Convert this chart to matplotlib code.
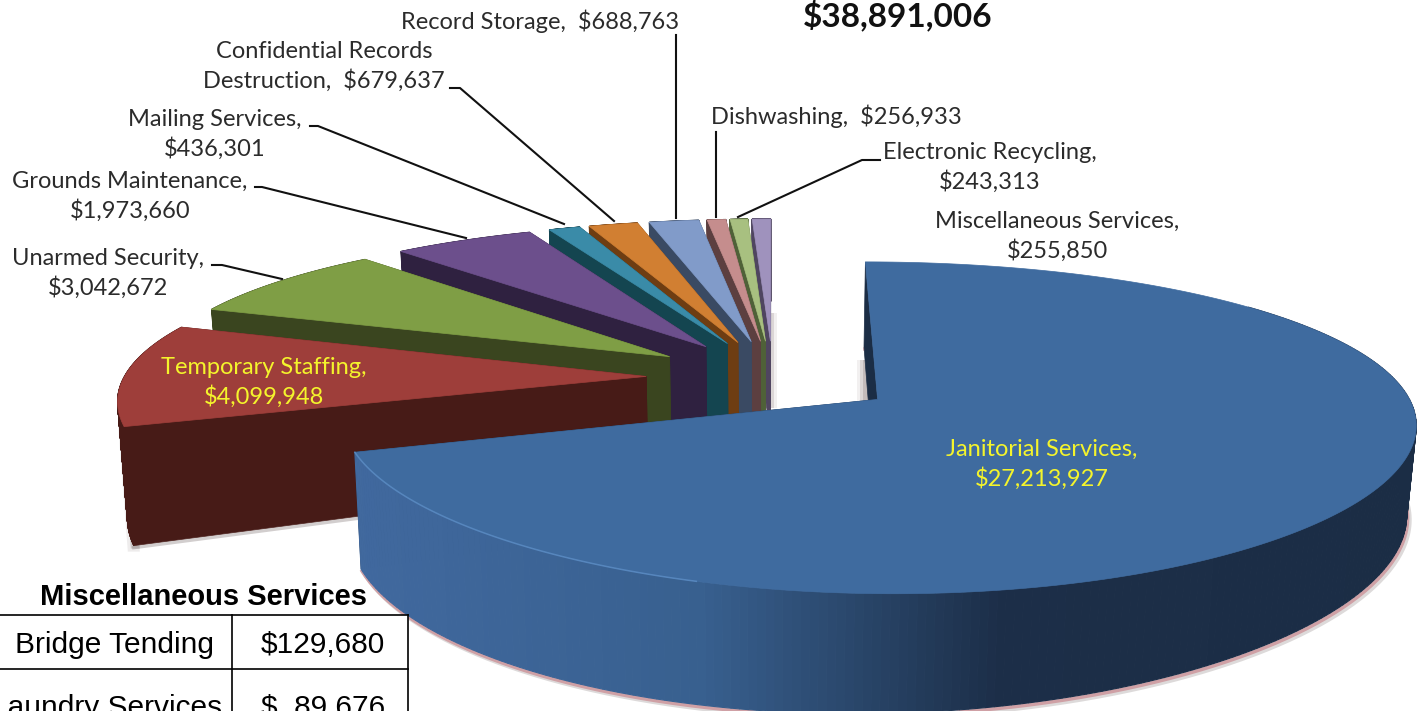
import numpy as np
import matplotlib
matplotlib.use('Agg')
import matplotlib.pyplot as plt
from matplotlib.colors import to_rgb

# chart data
services = ['Janitorial Services', 'Temporary Staffing', 'Unarmed Security',
            'Grounds Maintenance', 'Mailing Services', 'Confidential Records Destruction',
            'Record Storage', 'Dishwashing', 'Electronic Recycling', 'Miscellaneous Services']
amounts = [27213927, 4099948, 3042672, 1973660, 436301, 679637, 688763, 256933, 243313, 255850]
total_label = '$38,891,006'
misc_services = ['Bridge Tending', 'Laundry Services']
misc_amounts = ['$129,680', '$  89,676']

top_colors = ['#3f6b9f', '#9e3e3a', '#7f9e45', '#6c4f8c', '#3a8ba8',
              '#d17f32', '#819bc9', '#c58d8d', '#a8c080', '#9f92bd']
wall_colors = ['#1b2d45', '#471b17', '#3a451f', '#2f2140', '#144550',
               '#6e3d12', '#3a4a63', '#5c3f40', '#4f6138', '#4f4560']

# the fake 3d projection, in pixels
cx, cy = 773, 377
R = 522
tilt = 0.294
persp_x = 0.13
persp_y = 0.167
explode = 0.243
height = 105


def project(u, v):
    return cx + R * u / (1 + persp_x * v), cy - R * tilt * v / (1 + persp_y * v)


def drop(x, y, v):
    # where a point of the top face lands on the bottom face
    s = 1 / (1 + persp_y * v)
    h = height * s * (1 - 0.0002 * (x - 500))
    return cx + (x - cx) * 0.985, y + h


def wedge(a0, a1, n=300):
    mid = (a0 + a1) / 2
    ox, oy = explode * np.sin(mid), explode * np.cos(mid)
    ang = np.linspace(a0, a1, n)
    u = ox + np.sin(ang)
    v = oy + np.cos(ang)
    return (ox, oy), u, v


fig = plt.figure(figsize=(14.22, 7.11), dpi=100)
ax = fig.add_axes([0, 0, 1, 1])
ax.set_xlim(0, 1422)
ax.set_ylim(711, 0)
ax.axis('off')

fracs = np.array(amounts) / sum(amounts)
edges = np.concatenate([[0], np.cumsum(fracs)]) * 2 * np.pi

# soft shadows behind the back slices
for off, al in [(3, 0.45), (6, 0.3), (9, 0.15)]:
    ax.fill([765, 768 + off, 768 + off, 765], [313, 313, 408, 408], color='#a89c9c', alpha=al, lw=0, zorder=1)
    ax.fill([866 - off, 868, 868, 866 - off], [360, 360, 402, 402], color='#a89c9c', alpha=al, lw=0, zorder=1)

# back slices first, the big one last
z = 2
for i in range(len(amounts) - 1, -1, -1):
    (ox, oy), u, v = wedge(edges[i], edges[i + 1])
    xs, ys = project(u, v)
    ax_, ay_ = project(ox, oy)
    bx, by = drop(xs, ys, v)
    abx, aby = drop(ax_, ay_, oy)

    if i == 1:
        for off, al in [(3, 0.35), (6, 0.15)]:
            ax.fill([xs[0] - off, xs[0] + 6, bx[0] + 6, bx[0] - off],
                    [ys[0], ys[0], by[0] + off, by[0] + off],
                    color='#8f8585', alpha=al, lw=0, zorder=z)
        ax.plot([bx[0], abx], [by[0] + 2, aby + 2], color='#8f8585', lw=2.5, alpha=0.4, zorder=z)
    if i == 0:
        # pink rim and shadow under the big slice
        ax.plot(bx + 3, by + 4, color='#8f8585', lw=3, alpha=0.3, zorder=z)
        ax.plot(bx + 1, by + 2, color='#cfa0a5', lw=2.5, zorder=z)

    # radial walls
    ax.fill([ax_, xs[-1], bx[-1], abx], [ay_, ys[-1], by[-1], aby], color=wall_colors[i], lw=0.5, zorder=z)
    # outer wall, shaded strip by strip
    if i == 0:
        stops_x = [340, 700, 1000, 1422]
        stops_c = [to_rgb('#41699f'), to_rgb('#38608f'), to_rgb('#1c2e48'), to_rgb('#1b2d45')]
    else:
        stops_x = [0, 1422]
        stops_c = [to_rgb(wall_colors[i]), to_rgb(wall_colors[i])]
    for j in range(len(xs) - 1):
        if v[j] > 0.5 and i == 0:
            continue
        mx = (xs[j] + xs[j + 1]) / 2
        col = [np.interp(mx, stops_x, [c[k] for c in stops_c]) for k in range(3)]
        ax.fill([xs[j], xs[j + 1], bx[j + 1], bx[j]], [ys[j], ys[j + 1], by[j + 1], by[j]],
                color=col, lw=0.8, zorder=z)
    ax.fill([ax_, xs[0], bx[0], abx], [ay_, ys[0], by[0], aby], color=wall_colors[i], lw=0.5, zorder=z)
    # top face
    ax.fill(np.r_[ax_, xs], np.r_[ay_, ys], color=top_colors[i], lw=0.5, zorder=z + 0.5)
    if i == 0:
        # light edge along the front left of the top face
        keep = (xs < 700) & (v < 0)
        ax.plot(xs[keep], ys[keep], color='#5d8ec6', lw=1.1, alpha=0.8, zorder=z + 0.6)
    z += 1

# leader lines
leaders = [([676, 676], [35, 218]),
           ([450, 460, 614], [88, 88, 221]),
           ([310, 318, 564], [126, 126, 224]),
           ([255, 262, 466], [187, 187, 238]),
           ([212, 222, 282], [265, 265, 279]),
           ([716, 716], [132, 217]),
           ([880, 862, 738], [160, 160, 217])]
for lx, ly in leaders:
    ax.plot(lx, ly, color='#111111', lw=1.5, zorder=30)


def money(v):
    return '$' + format(v, ',')


lab_font = 'Lato'
lab_col = '#2b2b2b'
lab_size = 17
labels = [(540, 21, 'Record Storage,  ' + money(amounts[6])),
          (324, 66, 'Confidential Records\nDestruction,  ' + money(amounts[5])),
          (215, 134, 'Mailing Services,\n' + money(amounts[4])),
          (130, 196, 'Grounds Maintenance,\n' + money(amounts[3])),
          (108, 273, 'Unarmed Security,\n' + money(amounts[2])),
          (836, 116, 'Dishwashing,  ' + money(amounts[7])),
          (990, 167, 'Electronic Recycling,\n' + money(amounts[8])),
          (1057, 236, 'Miscellaneous Services,\n' + money(amounts[9]))]
for lx, ly, s in labels:
    ax.text(lx, ly, s, ha='center', va='center', family=lab_font, fontsize=lab_size, color=lab_col,
            linespacing=1.38, parse_math=False, zorder=31)

ax.text(264, 382, services[1] + ',\n' + money(amounts[1]), ha='center', va='center', family=lab_font,
        fontsize=lab_size, color='#f4f42c', linespacing=1.38, parse_math=False, zorder=31)
ax.text(1042, 464, services[0] + ',\n' + money(amounts[0]), ha='center', va='center', family=lab_font,
        fontsize=lab_size, color='#f4f42c', linespacing=1.38, parse_math=False, zorder=31)
ax.text(898, 15, total_label, ha='center', va='center', family=lab_font, fontsize=24, fontweight='bold',
        color='#111111', parse_math=False, zorder=31)

# small table in the corner
ax.text(203, 597, 'Miscellaneous Services', ha='center', va='center', family='Liberation Sans',
        fontsize=21, fontweight='bold', color='black', zorder=40)
ax.fill([0, 408, 408, 0], [615, 615, 711, 711], color='white', lw=0, zorder=39)
ax.plot([0, 408], [615, 615], color='black', lw=1.2, zorder=41)
ax.plot([0, 408], [669, 669], color='black', lw=1.2, zorder=41)
ax.plot([232, 232], [615, 711], color='black', lw=1.2, zorder=41)
ax.plot([408, 408], [615, 711], color='black', lw=1.2, zorder=41)
ax.text(214, 645, misc_services[0], ha='right', va='center', family='Liberation Sans', fontsize=21.5, zorder=42)
ax.text(385, 645, misc_amounts[0], ha='right', va='center', family='Liberation Sans', fontsize=21.5,
        parse_math=False, zorder=42)
ax.text(222, 708, misc_services[1], ha='right', va='center', family='Liberation Sans', fontsize=21.5, zorder=42)
ax.text(385, 708, misc_amounts[1], ha='right', va='center', family='Liberation Sans', fontsize=21.5,
        parse_math=False, zorder=42)

fig.savefig('out.png', dpi=100)
